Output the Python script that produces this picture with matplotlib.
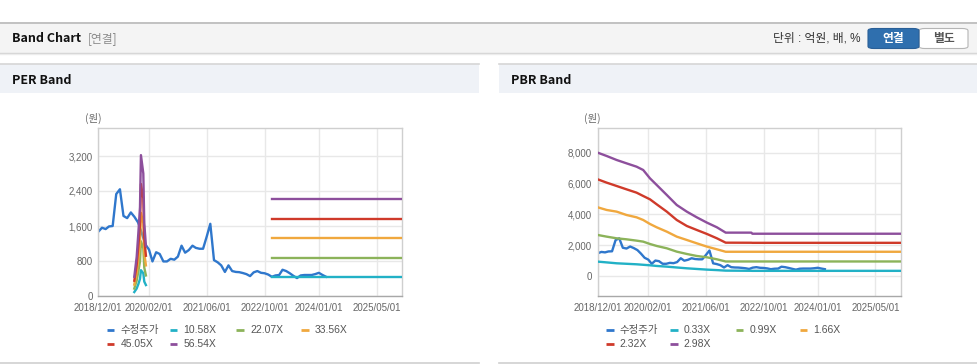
import matplotlib
matplotlib.use("Agg")
import matplotlib.pyplot as plt
import matplotlib.dates as mdates
import pandas as pd
from matplotlib.patches import Rectangle, FancyBboxPatch
from matplotlib.lines import Line2D

# ---------------- data ----------------
price_dates = pd.date_range("2018-12-01", periods=64, freq="MS")
price = [1470, 1560, 1530, 1590, 1600, 2330, 2440, 1830, 1780, 1910,
         1810, 1680, 1450, 1180, 1060, 790, 1000, 960, 790, 790,
         850, 830, 900, 1150, 990, 1050, 1150, 1100, 1080, 1080,
         1360, 1650, 820, 770, 700, 550, 700, 570, 550, 545,
         525, 500, 455, 540, 570, 530, 520, 490, 440, 470,
         480, 600, 570, 520, 460, 410, 470, 480, 480, 480,
         500, 530, 480, 440]

# PER band: short spike period + flat period
per_labels = ["10.58X", "22.07X", "33.56X", "45.05X", "56.54X"]
per_spike_dates = ["2019-09-30", "2019-10-20", "2019-11-03", "2019-11-17",
                   "2019-11-25", "2019-12-15", "2019-12-23", "2020-01-06"]
per_spike = {
    "10.58X": [90, 170, 270, 390, 590, 520, 330, 250],
    "22.07X": [170, 350, 560, 790, 1250, 1090, 650, 470],
    "33.56X": [260, 530, 850, 1210, 1900, 1660, 980, 700],
    "45.05X": [350, 710, 1140, 1620, 2560, 2230, 1320, 920],
    "56.54X": [440, 890, 1430, 2030, 3220, 2800, 1660, 1150],
}
per_flat_dates = ["2022-12-01", "2025-12-01"]
per_flat = {
    "10.58X": [430, 430],
    "22.07X": [870, 870],
    "33.56X": [1325, 1325],
    "45.05X": [1760, 1760],
    "56.54X": [2210, 2210],
}

# PBR band
pbr_labels = ["0.33X", "0.99X", "1.66X", "2.32X", "2.98X"]
pbr_dates = ["2018-12-01", "2019-02-15", "2019-05-10", "2019-08-01", "2019-10-25",
             "2019-12-20", "2020-02-15", "2020-04-12", "2020-07-06", "2020-09-28",
             "2020-12-22", "2021-03-16", "2021-06-10", "2021-09-02", "2021-11-15",
             "2022-06-20", "2022-06-28", "2025-12-01"]
pbr_bands = {
    "0.33X": [930, 880, 822, 790, 757, 725, 692, 650, 605, 550,
              497, 454, 411, 380, 346, 335, 332, 332],
    "0.99X": [2660, 2551, 2443, 2378, 2292, 2227, 2075, 1946, 1795, 1578,
              1427, 1297, 1211, 1081, 940, 940, 940, 940],
    "1.66X": [4454, 4281, 4173, 3956, 3805, 3632, 3373, 3157, 2875, 2551,
              2335, 2119, 1903, 1730, 1570, 1570, 1570, 1570],
    "2.32X": [6270, 6054, 5837, 5621, 5405, 5189, 4973, 4648, 4173, 3632,
              3243, 2984, 2724, 2443, 2160, 2155, 2150, 2150],
    "2.98X": [8000, 7783, 7524, 7308, 7091, 6875, 6335, 5902, 5254, 4605,
              4173, 3805, 3459, 3157, 2811, 2811, 2740, 2740],
}

xtick_labels = ["2018/12/01", "2020/02/01", "2021/06/01", "2022/10/01",
                "2024/01/01", "2025/05/01"]
per_yticks = [0, 800, 1600, 2400, 3200]
pbr_yticks = [0, 2000, 4000, 6000, 8000]

price_label = "수정주가"
price_color = "#2f77cc"
band_colors = ["#22b1c6", "#8cb35a", "#f0a83e", "#cf3a2a", "#8d4f9c"]

# ---------------- figure ----------------
W, H = 978, 364
fig = plt.figure(figsize=(W / 100, H / 100), dpi=100)
fig.patch.set_facecolor("white")

def fx(x):
    return x / W

def fy(y):
    return 1 - y / H

KR = ["Noto Sans CJK KR", "DejaVu Sans"]
MIX = ["Liberation Sans", "Noto Sans CJK KR", "DejaVu Sans"]

def rect(x0, y0, x1, y1, **kw):
    fig.add_artist(Rectangle((fx(x0), fy(y1)), (x1 - x0) / W, (y1 - y0) / H,
                             transform=fig.transFigure, **kw))

def hline(x0, x1, y, color, lw=1.0):
    fig.add_artist(Line2D([fx(x0), fx(x1)], [fy(y), fy(y)], color=color, lw=lw,
                          transform=fig.transFigure))

# top bar
rect(0, 22.5, W, 53, facecolor="#f4f4f4", edgecolor="none")
hline(0, W, 22.5, "#b8b8b8", 1.2)
hline(0, W, 53.3, "#d2d2d2", 1.0)
hline(0, W, 54.3, "#ececec", 1.0)
fig.text(fx(12), fy(38.5), "Band Chart", family=KR, fontsize=9, fontweight="bold",
         color="#111111", va="center", ha="left")
fig.text(fx(88), fy(38.5), "[연결]", family=KR, fontsize=8.5, color="#8a8a8a",
         va="center", ha="left")
fig.text(fx(861), fy(38.5), "단위 : 억원, 배, %", family=MIX, fontsize=8.5,
         color="#333333", va="center", ha="right")
# buttons
fig.add_artist(FancyBboxPatch((fx(919), fy(48.5)), (968 - 919) / W, 20 / H,
                              boxstyle="round,pad=0,rounding_size=0.006",
                              transform=fig.transFigure, facecolor="#ffffff",
                              edgecolor="#b5b5b5", lw=0.8))
fig.add_artist(FancyBboxPatch((fx(868), fy(48.5)), (919 - 868) / W, 20 / H,
                              boxstyle="round,pad=0,rounding_size=0.006",
                              transform=fig.transFigure, facecolor="#2f6fae",
                              edgecolor="#2a5f97", lw=0.8))
fig.text(fx(893.5), fy(38.5), "연결", family=KR, fontsize=8.5, fontweight="bold",
         color="white", va="center", ha="center")
fig.text(fx(943.5), fy(38.5), "별도", family=KR, fontsize=8.5, fontweight="bold",
         color="#555555", va="center", ha="center")

# panel headers
for x0, x1, title in [(0, 479, "PER Band"), (499, W, "PBR Band")]:
    rect(x0, 64, x1, 93, facecolor="#eff2f7", edgecolor="none")
    hline(x0, x1, 64, "#d6d6d6", 1.2)
    hline(x0, x1, 362.5, "#cfcfcf", 1.2)
    fig.text(fx(x0 + 12), fy(80), title, family=KR, fontsize=9, fontweight="bold",
             color="#111111", va="center", ha="left")

def to_num(d):
    return mdates.date2num(pd.to_datetime(d))

xmin, xmax = to_num("2018-12-01"), to_num("2025-12-01")
xticks = [to_num(s.replace("/", "-")) for s in xtick_labels]

def style_axes(ax, yticks, ylim):
    ax.set_xlim(xmin, xmax)
    ax.set_ylim(*ylim)
    ax.set_xticks(xticks)
    ax.set_xticklabels(xtick_labels)
    ax.set_yticks(yticks)
    ax.set_yticklabels([f"{v:,}" for v in yticks])
    ax.grid(True, color="#e8e8e8", lw=1.0)
    ax.set_axisbelow(True)
    for s in ["top", "right", "left"]:
        ax.spines[s].set_color("#cfcfcf")
        ax.spines[s].set_linewidth(1.0)
    ax.spines["bottom"].set_color("#a8a8a8")
    ax.spines["bottom"].set_linewidth(1.0)
    ax.tick_params(axis="both", length=0, labelsize=7, labelcolor="#666666")
    ax.tick_params(axis="x", pad=5)
    ax.tick_params(axis="y", pad=4)
    for lab in ax.get_xticklabels() + ax.get_yticklabels():
        lab.set_family(MIX)

pdates = mdates.date2num(price_dates)
LW = 1.7

# PER chart
axL = fig.add_axes([fx(98.3), fy(296), (402 - 98.3) / W, (296 - 128) / H])
axL.plot(pdates, price, color=price_color, lw=LW, zorder=2)
sd = [to_num(d) for d in per_spike_dates]
fd = [to_num(d) for d in per_flat_dates]
for lab, col in zip(per_labels, band_colors):
    axL.plot(sd, per_spike[lab], color=col, lw=LW, zorder=3)
    axL.plot(fd, per_flat[lab], color=col, lw=LW, zorder=3)
style_axes(axL, per_yticks, (0, 3840))

# PBR chart
axR = fig.add_axes([fx(597.7), fy(296), (900.7 - 597.7) / W, (296 - 128) / H])
axR.plot(pdates, price, color=price_color, lw=LW, zorder=2)
bd = [to_num(d) for d in pbr_dates]
for lab, col in zip(pbr_labels, band_colors):
    axR.plot(bd, pbr_bands[lab], color=col, lw=LW, zorder=3)
style_axes(axR, pbr_yticks, (-1300, 9600))

# unit labels
fig.text(fx(93), fy(118), "(원)", family=KR, fontsize=7.5, color="#666666",
         ha="center", va="center")
fig.text(fx(592.5), fy(118), "(원)", family=KR, fontsize=7.5, color="#666666",
         ha="center", va="center")

# legends
def legend(items, positions):
    for (lab, col), (mx, my) in zip(items, positions):
        fig.add_artist(Line2D([fx(mx), fx(mx + 7.5)], [fy(my), fy(my)], color=col,
                              lw=2.0, transform=fig.transFigure,
                              solid_capstyle="butt"))
        fig.text(fx(mx + 13.5), fy(my), lab, family=MIX, fontsize=7.5,
                 color="#555555", ha="left", va="center")

left_items = [(price_label, price_color)] + list(zip(per_labels, band_colors))
right_items = [(price_label, price_color)] + list(zip(pbr_labels, band_colors))
legend(left_items, [(107, 330), (170, 330), (236.5, 330), (301.5, 330),
                    (107, 344), (170, 344)])
legend(right_items, [(606, 330), (670, 330), (736, 330), (800, 330),
                     (606, 344), (670, 344)])

fig.savefig("out.png", dpi=100, facecolor="white")
